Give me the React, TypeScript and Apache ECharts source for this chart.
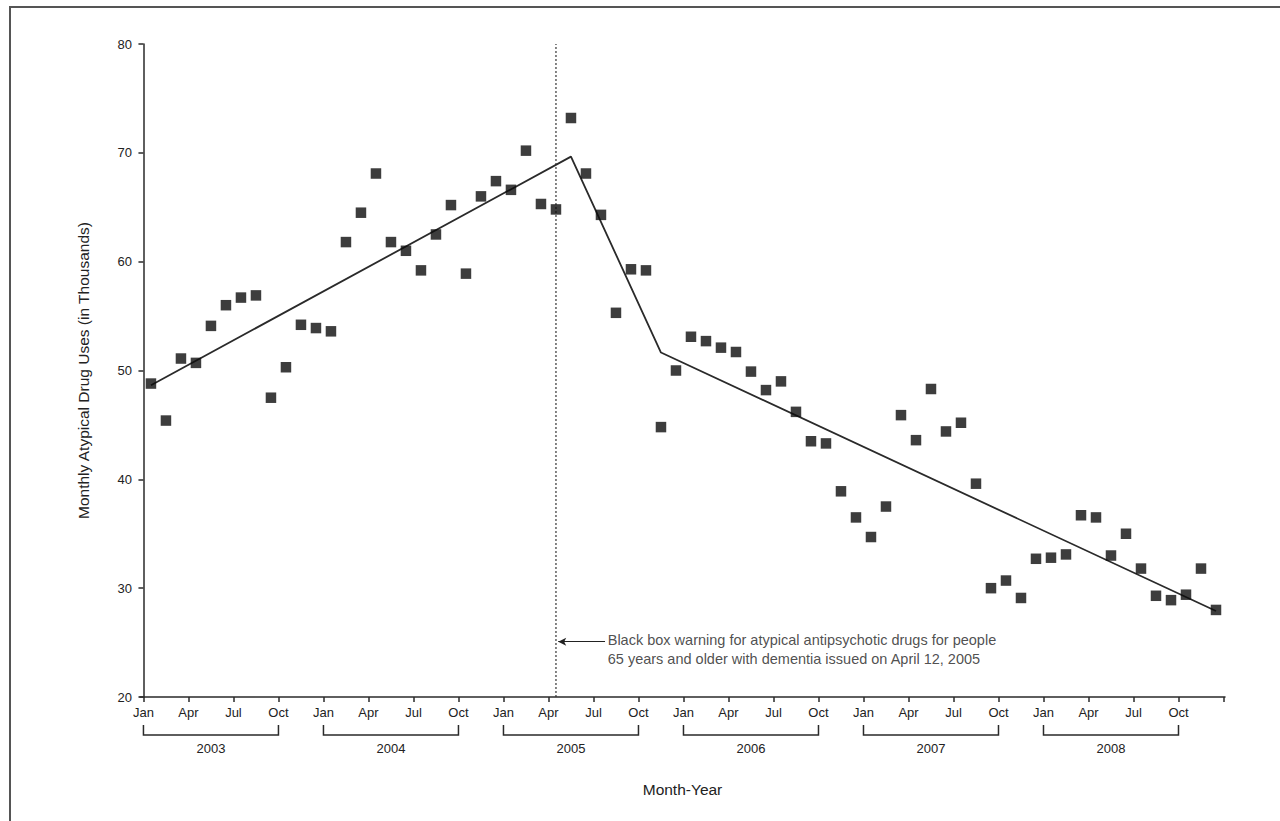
import React, { useEffect, useRef } from "react";
import * as echarts from "echarts";

// Monthly atypical drug uses (thousands), Jan 2003 .. Dec 2008, plotted at mid-month
const usesValues: number[] = [
  48.8, 45.4, 51.1, 50.7, 54.1, 56.0, 56.7, 56.9, 47.5, 50.3, 54.2, 53.9,
  53.6, 61.8, 64.5, 68.1, 61.8, 61.0, 59.2, 62.5, 65.2, 58.9, 66.0, 67.4,
  66.6, 70.2, 65.3, 64.8, 73.2, 68.1, 64.3, 55.3, 59.3, 59.2, 44.8, 50.0,
  53.1, 52.7, 52.1, 51.7, 49.9, 48.2, 49.0, 46.2, 43.5, 43.3, 38.9, 36.5,
  34.7, 37.5, 45.9, 43.6, 48.3, 44.4, 45.2, 39.6, 30.0, 30.7, 29.1, 32.7,
  32.8, 33.1, 36.7, 36.5, 33.0, 35.0, 31.8, 29.3, 28.9, 29.4, 31.8, 28.0,
];

// Segmented regression fit: [month position, value]
const fitLine: [number, number][] = [
  [0.5, 48.65],
  [28.5, 69.65],
  [34.5, 51.65],
  [71.5, 27.9],
];

const monthNames = ["Jan", "Apr", "Jul", "Oct"];
const tickMonths: number[] = Array.from({ length: 25 }, (_, i) => i * 3);
const labelMonths: number[] = tickMonths.slice(0, 24);
const years: number[] = [2003, 2004, 2005, 2006, 2007, 2008];
const warningMonth = 27.5; // April 12, 2005
const annotationLines = [
  "Black box warning for atypical antipsychotic drugs for people",
  "65 years and older with dementia issued on April 12, 2005",
];

const FONT = "'Liberation Sans Narrow', 'Arial Narrow', 'Liberation Sans', Arial, sans-serif";
const TEXT = "#222";
const AXIS = "#2a2a2a";

export default function App() {
  const ref = useRef<HTMLDivElement>(null);
  useEffect(() => {
    if (!ref.current) return;
    const chart = echarts.init(ref.current, undefined, { renderer: "svg" });
    const points = usesValues.map((v, i) => [i + 0.5, v]);
    const bracketData = years.map((y, i) => [i * 12, i * 12 + 9, y]);
    chart.setOption({
      animation: false,
      backgroundColor: "#fff",
      textStyle: { fontFamily: FONT, color: TEXT },
      graphic: [
        {
          type: "polyline",
          shape: { points: [[10, 900], [10, 7], [1300, 7]] },
          style: { stroke: "#555", lineWidth: 2, fill: null },
          silent: true,
        },
      ],
      grid: { left: 140, right: 55, top: 44, bottom: 124, containLabel: false },
      xAxis: {
        type: "value",
        min: -0.23,
        max: 72.1,
        name: "Month-Year",
        nameLocation: "middle",
        nameGap: 84,
        nameTextStyle: { fontFamily: FONT, fontSize: 15.5, color: TEXT },
        splitLine: { show: false },
        axisLine: { show: true, lineStyle: { color: AXIS, width: 1.5 } },
        axisTick: {
          show: true,
          length: 5,
          customValues: tickMonths,
          lineStyle: { color: AXIS, width: 1.5 },
        },
        axisLabel: {
          customValues: labelMonths,
          formatter: (v: number) => monthNames[Math.round(v / 3) % 4],
          fontFamily: FONT,
          fontSize: 13,
          color: TEXT,
          margin: 9,
        },
      },
      yAxis: {
        type: "value",
        min: 20,
        max: 80,
        interval: 10,
        name: "Monthly Atypical Drug Uses (in Thousands)",
        nameLocation: "middle",
        nameGap: 49,
        nameRotate: 90,
        nameTextStyle: { fontFamily: FONT, fontSize: 15.5, color: TEXT },
        splitLine: { show: false },
        axisLine: { show: true, lineStyle: { color: AXIS, width: 1.5 } },
        axisTick: { show: true, length: 5, lineStyle: { color: AXIS, width: 1.5 } },
        axisLabel: { fontFamily: FONT, fontSize: 13, color: TEXT, margin: 8 },
      },
      series: [
        {
          type: "line",
          name: "warning",
          data: [[warningMonth, 20], [warningMonth, 80]],
          showSymbol: false,
          symbol: "none",
          lineStyle: { color: "#333", width: 1.2, type: [2, 2] },
          silent: true,
          z: 1,
        },
        {
          type: "line",
          name: "fit",
          data: fitLine,
          showSymbol: false,
          symbol: "none",
          lineStyle: { color: "#2a2a2a", width: 1.8 },
          silent: true,
          z: 2,
        },
        {
          type: "scatter",
          name: "uses",
          data: points,
          symbol: "rect",
          symbolSize: 10.5,
          itemStyle: { color: "#0d0d0d" },
          z: 3,
        },
        {
          type: "scatter",
          name: "annotation",
          data: [[30.95, 24.36]],
          symbolSize: 0,
          silent: true,
          label: {
            show: true,
            position: "right",
            distance: 0,
            formatter: annotationLines.join("\n"),
            fontFamily: FONT,
            fontSize: 14.5,
            lineHeight: 19,
            color: TEXT,
            align: "left",
          },
          markLine: {
            silent: true,
            symbol: ["none", "arrow"],
            symbolSize: [6, 8],
            label: { show: false },
            lineStyle: { color: "#222", width: 1.2, type: "solid" },
            data: [[{ coord: [30.77, 25.08] }, { coord: [27.65, 25.08] }]],
          },
        },
        {
          type: "custom",
          name: "years",
          data: bracketData,
          clip: false,
          silent: true,
          encode: { x: [0, 1] },
          renderItem: (params: any, api: any) => {
            const a = api.coord([api.value(0), 20]);
            const b = api.coord([api.value(1), 20]);
            const y0 = a[1];
            return {
              type: "group",
              children: [
                {
                  type: "polyline",
                  shape: {
                    points: [
                      [a[0], y0 + 28],
                      [a[0], y0 + 38],
                      [b[0], y0 + 38],
                      [b[0], y0 + 28],
                    ],
                  },
                  style: { stroke: AXIS, lineWidth: 1.5, fill: null },
                },
                {
                  type: "text",
                  style: {
                    text: String(api.value(2)),
                    x: (a[0] + b[0]) / 2,
                    y: y0 + 51,
                    align: "center",
                    verticalAlign: "middle",
                    fontFamily: FONT,
                    fontSize: 13,
                    fill: TEXT,
                  },
                },
              ],
            };
          },
        },
      ],
    });
    return () => chart.dispose();
  }, []);
  return (
    <div
      ref={ref}
      style={{ position: "absolute", left: 0, top: 0, width: 1280, height: 821 }}
    />
  );
}
